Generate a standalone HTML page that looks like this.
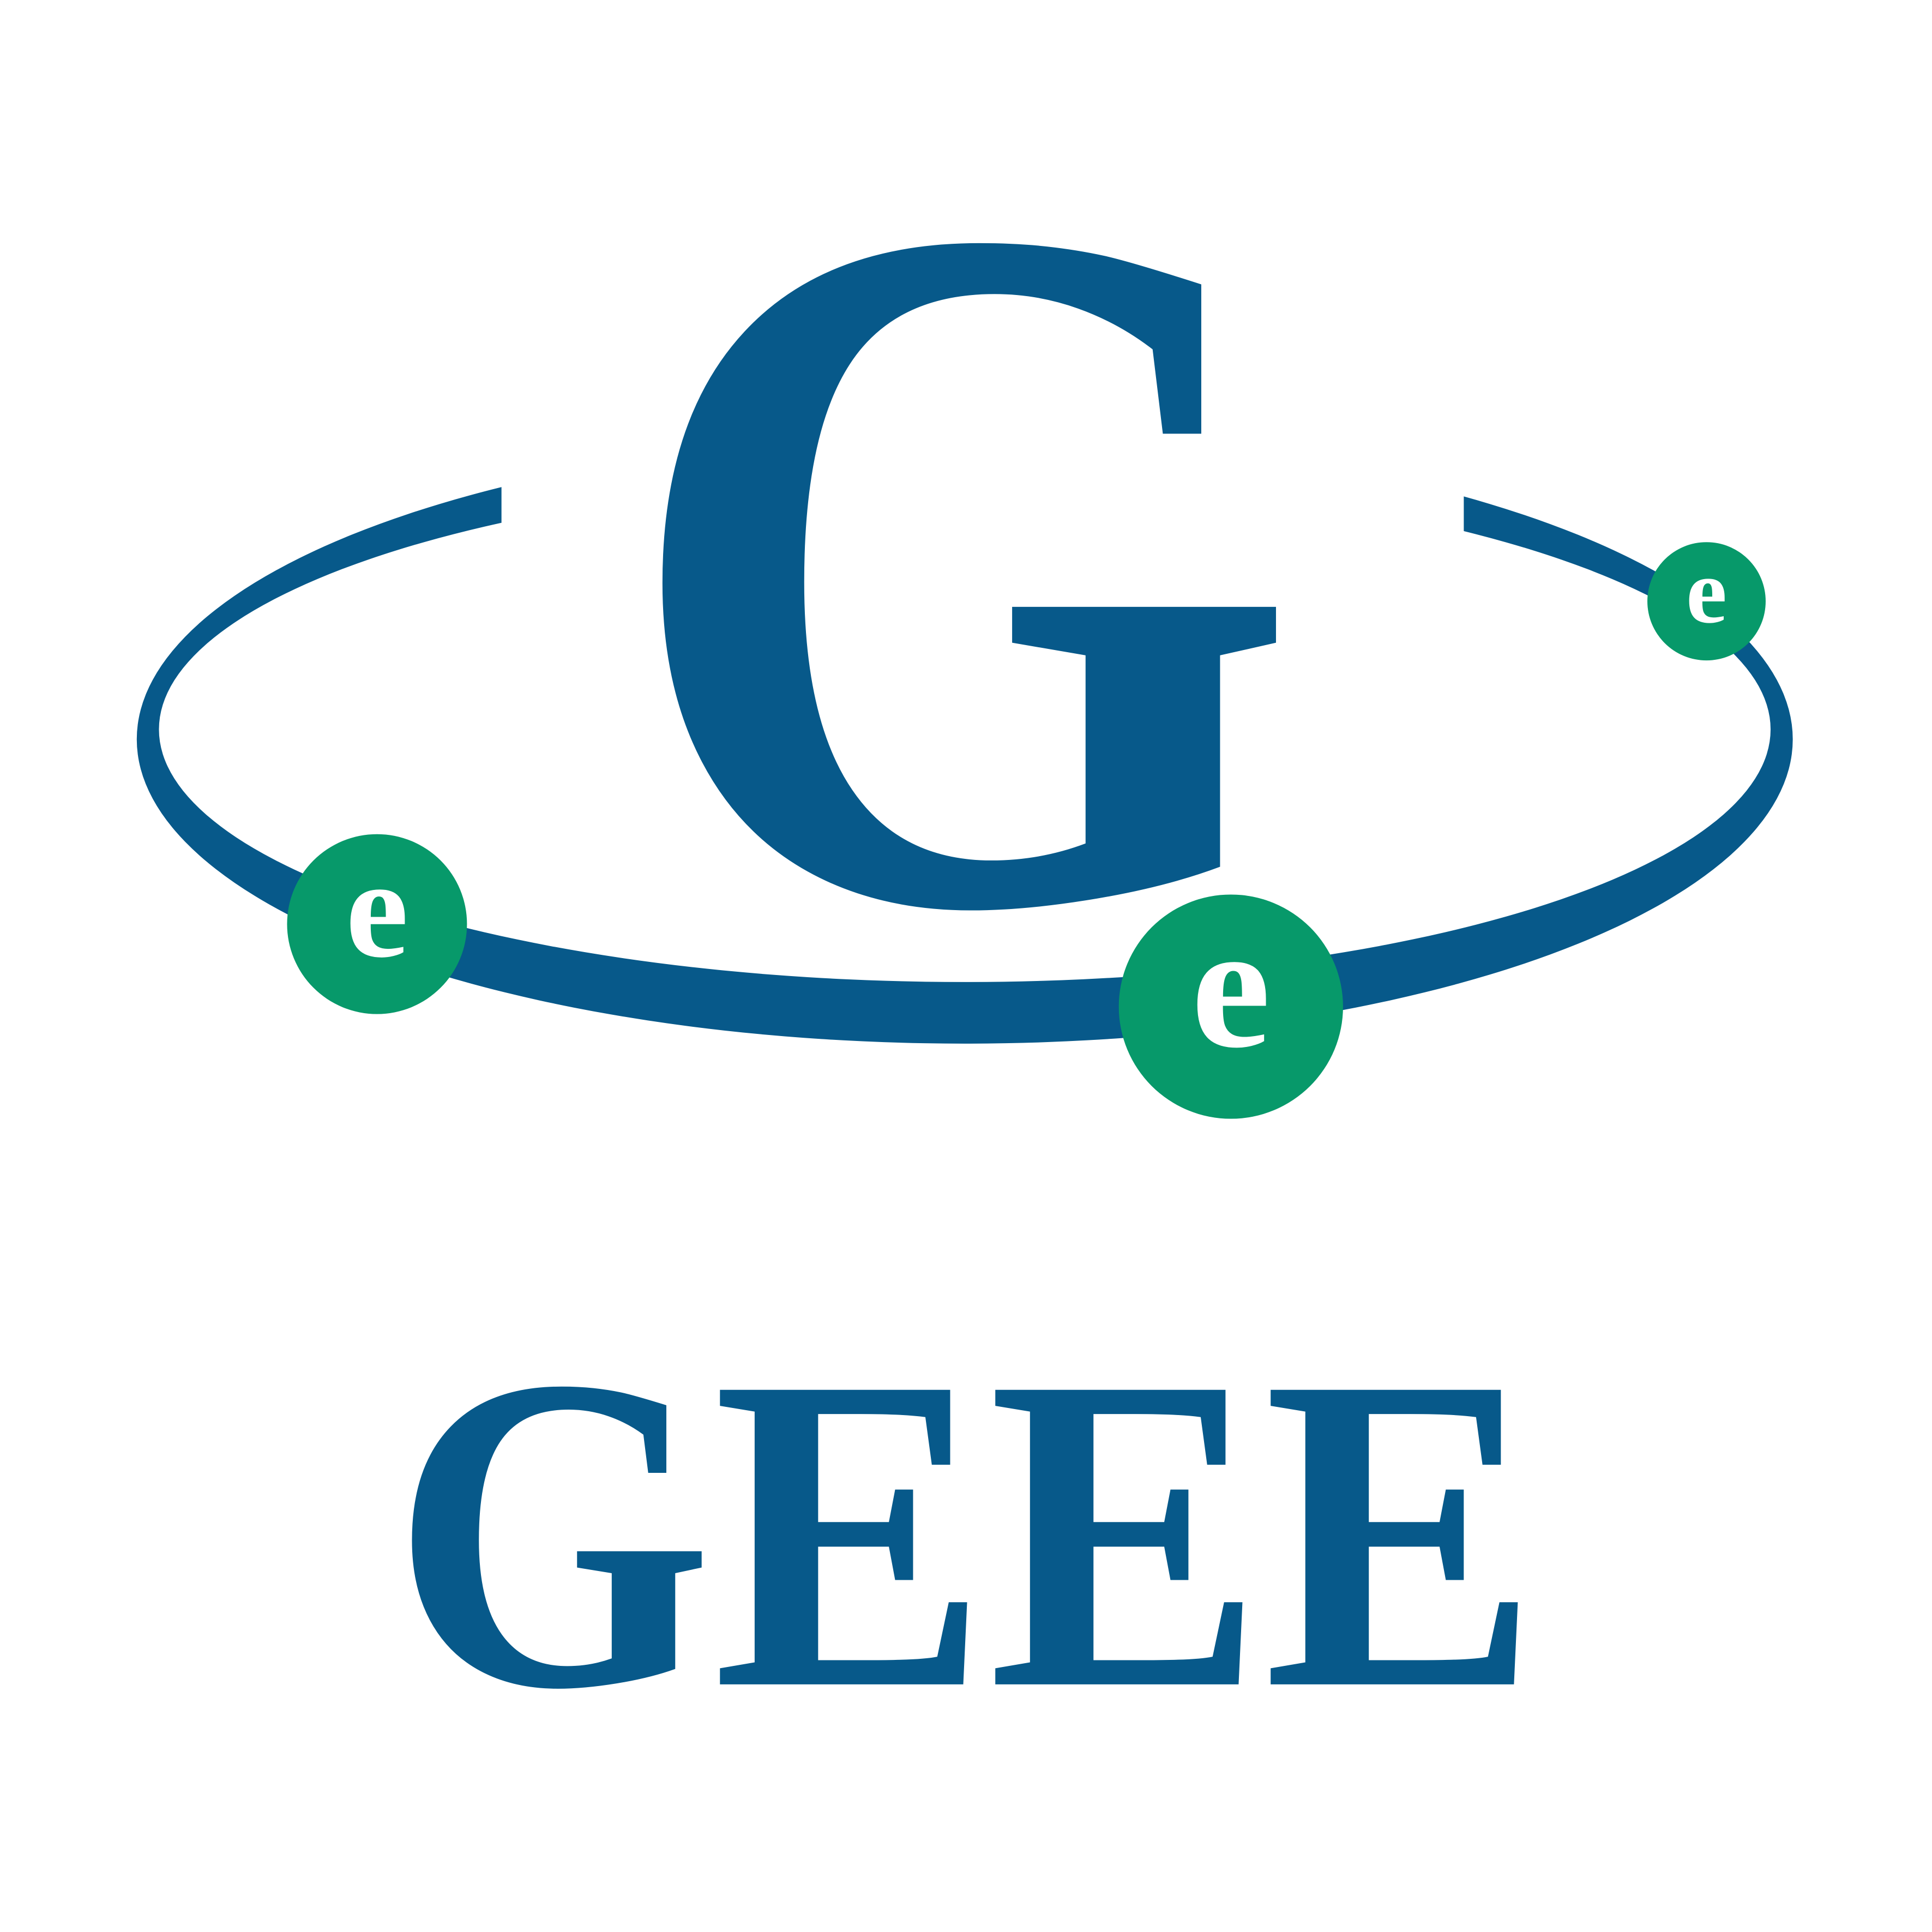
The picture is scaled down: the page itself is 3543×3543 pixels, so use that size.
<!DOCTYPE html>
<html><head><meta charset="utf-8"><style>
html,body{margin:0;padding:0;background:#fff;}
svg{display:block;}
</style></head><body>
<svg width="3543" height="3543" viewBox="0 0 1568 1568" xmlns="http://www.w3.org/2000/svg">
<defs>
<clipPath id="orbitClip">
<path d="M0 0H1568V1568H0Z M407 300H1188V470H407Z" clip-rule="evenodd" fill-rule="evenodd"/>
</clipPath>
</defs>
<rect width="1568" height="1568" fill="#fff"/>
<g clip-path="url(#orbitClip)">
<path fill="#07598A" fill-rule="evenodd"
 d="M111 600a672 247 0 1 0 1344 0a672 247 0 1 0 -1344 0Z M129 592a654 205 0 1 0 1308 0a654 205 0 1 0 -1308 0Z"/>
</g>
<text x="503" y="731" textLength="552" lengthAdjust="spacingAndGlyphs" font-family="Liberation Serif, serif" font-weight="bold" font-size="806" fill="#07598A">G</text>
<g>
<circle cx="306" cy="750" r="73" fill="#07996A"/>
<text x="306" y="776" text-anchor="middle" font-family="Liberation Serif, serif" font-weight="bold" font-size="115" fill="#fff">e</text>
</g>
<g>
<circle cx="999" cy="817" r="91" fill="#07996A"/>
<text x="999" y="849" text-anchor="middle" font-family="Liberation Serif, serif" font-weight="bold" font-size="145" fill="#fff">e</text>
</g>
<g>
<circle cx="1385" cy="488" r="48" fill="#07996A"/>
<text x="1385" y="505" text-anchor="middle" font-family="Liberation Serif, serif" font-weight="bold" font-size="75" fill="#fff">e</text>
</g>
<text x="318" y="1367" textLength="931" lengthAdjust="spacingAndGlyphs" font-family="Liberation Serif, serif" font-weight="bold" font-size="365" fill="#07598A">GEEE</text>
</svg>
</body></html>
